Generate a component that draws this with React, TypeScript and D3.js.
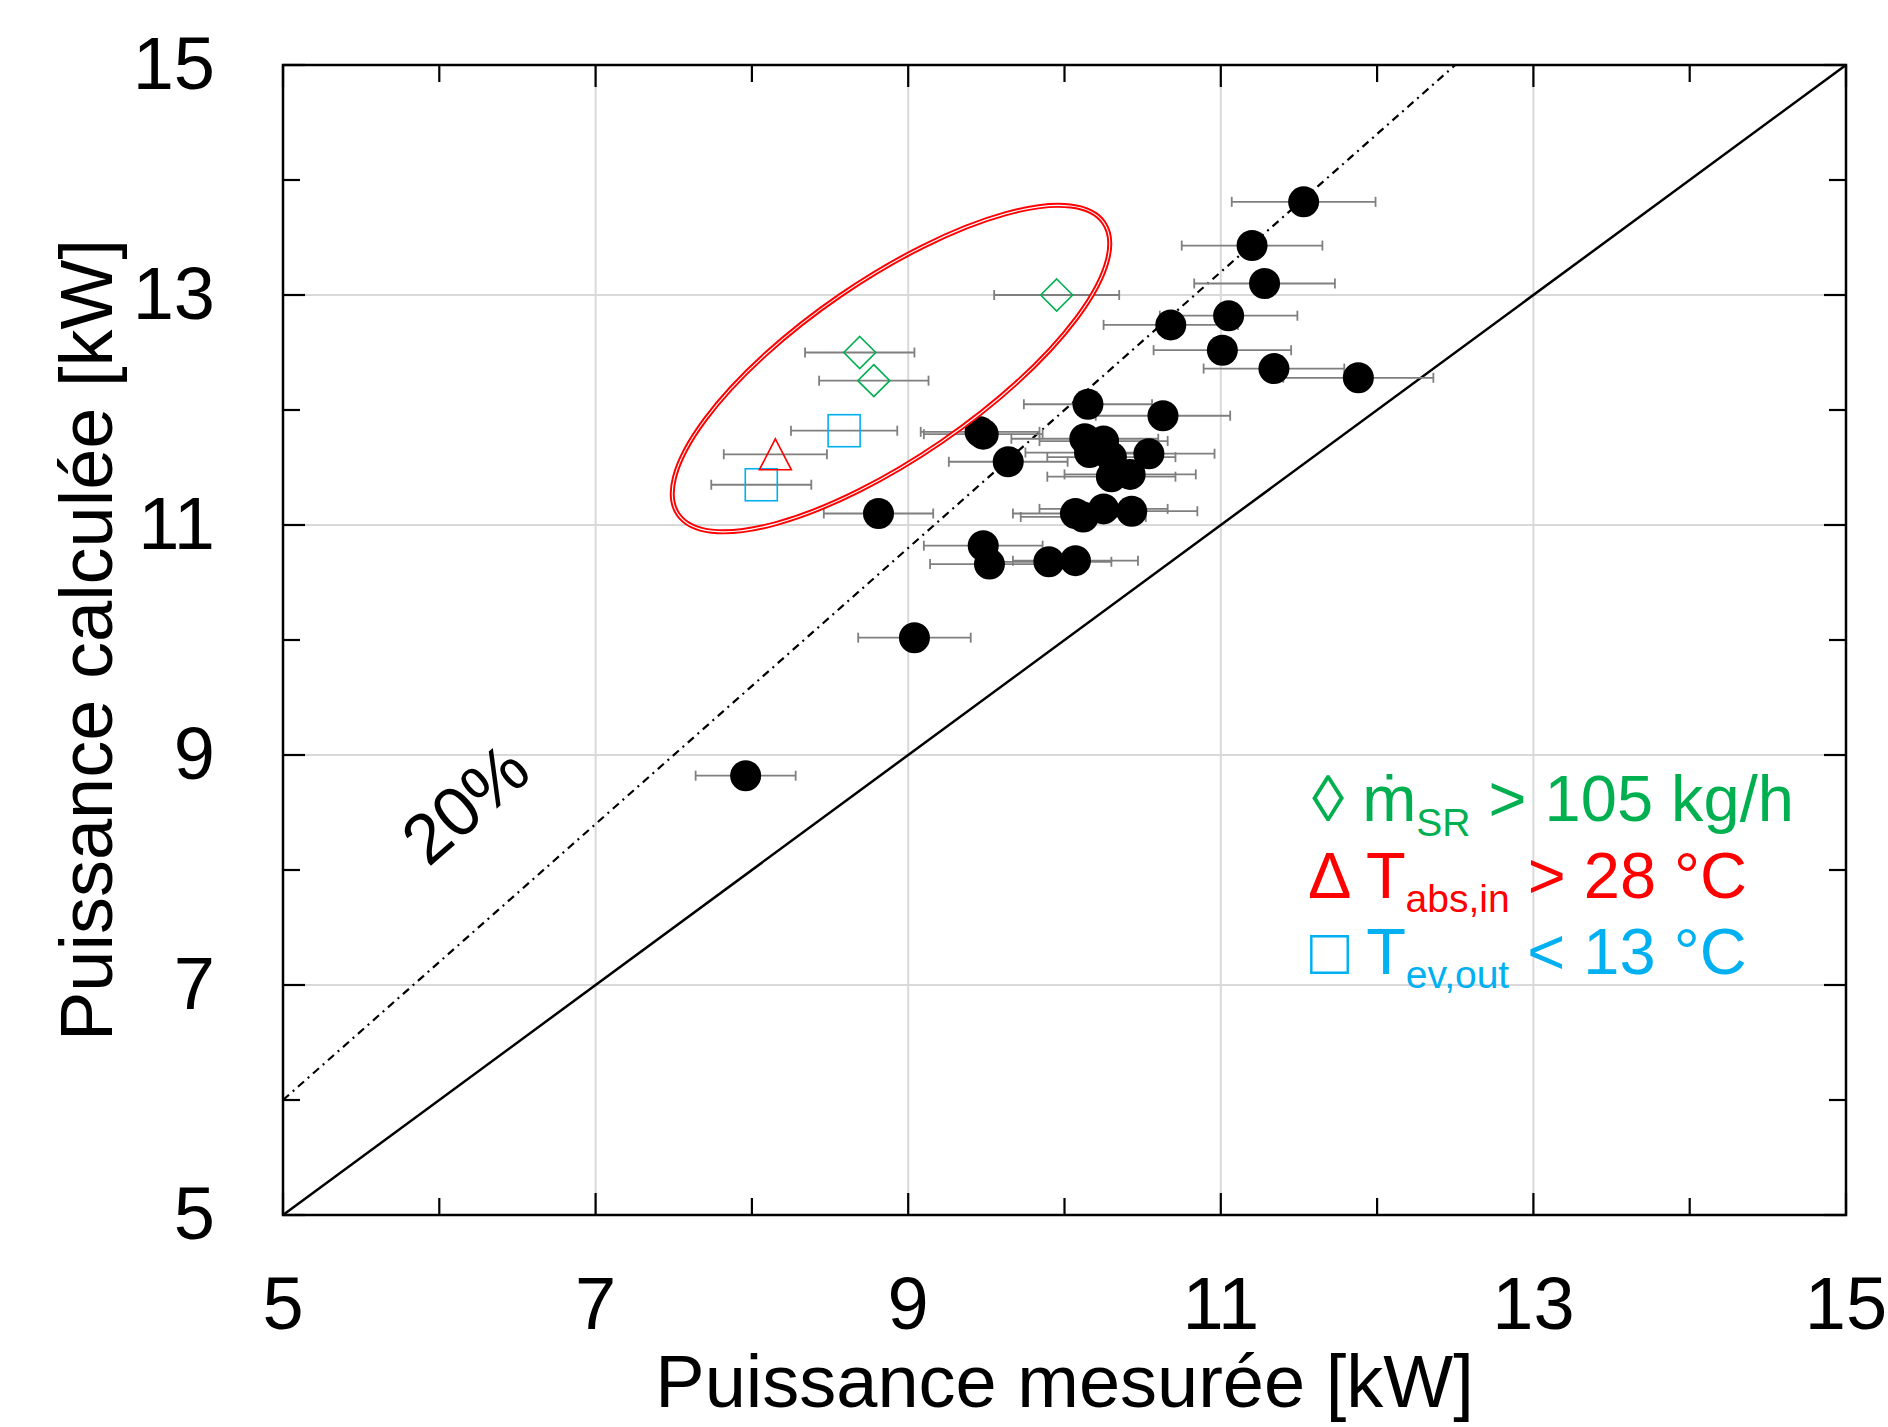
import React from "react";
import * as d3 from "d3";

const W = 1888;
const H = 1427;

const axisTicks = [5, 7, 9, 11, 13, 15];
const minorTicks = [6, 8, 10, 12, 14];
const gridValues = [7, 9, 11, 13];

// Black points: measured power, calculated power, x uncertainty
const measured = [11.53, 11.2, 11.28, 11.05, 10.68, 11.01, 11.34, 11.88, 10.15, 10.63, 9.46, 9.48, 10.13, 10.25, 10.16, 10.3, 10.54, 9.64, 10.3, 10.42, 8.81, 10.07, 10.12, 10.25, 10.43, 9.48, 9.52, 9.9, 10.07, 9.04, 7.96];
const calculated = [13.81, 13.43, 13.1, 12.82, 12.74, 12.52, 12.36, 12.28, 12.05, 11.95, 11.81, 11.79, 11.75, 11.73, 11.63, 11.59, 11.62, 11.55, 11.42, 11.44, 11.1, 11.1, 11.07, 11.14, 11.12, 10.82, 10.66, 10.68, 10.69, 10.02, 8.82];
const measuredErr = [0.46, 0.45, 0.45, 0.44, 0.43, 0.44, 0.45, 0.48, 0.41, 0.43, 0.38, 0.38, 0.47, 0.41, 0.41, 0.41, 0.42, 0.38, 0.41, 0.42, 0.35, 0.4, 0.4, 0.41, 0.42, 0.38, 0.38, 0.4, 0.4, 0.36, 0.32];

// Green diamonds (m_SR > 105 kg/h)
const diamondX = [9.95, 8.69, 8.78];
const diamondY = [13.0, 12.5, 12.255];
const diamondErr = [0.4, 0.35, 0.35];

// Blue squares (T_ev,out < 13 °C)
const squareX = [8.59, 8.06];
const squareY = [11.82, 11.35];
const squareErr = [0.34, 0.32];

// Red triangle (T_abs,in > 28 °C)
const triangleX = [8.15];
const triangleY = [11.615];
const triangleErr = [0.33];

const FONT = "'Liberation Sans', Arial, Helvetica, sans-serif";
const GREEN = "#00B050";
const RED = "#FF0000";
const BLUE = "#00B0F0";

export default function App() {
  const x = d3.scaleLinear().domain([5, 15]).range([283, 1846]);
  const y = d3.scaleLinear().domain([5, 15]).range([1215, 65]);
  const [x0, x1] = x.range();
  const [y0, y1] = y.range();

  const errBar = (cx: number, cy: number, e: number, key: string) => (
    <g key={key} stroke="#7f7f7f" strokeWidth={1.8}>
      <line x1={x(cx - e)} x2={x(cx + e)} y1={y(cy)} y2={y(cy)} />
      <line x1={x(cx - e)} x2={x(cx - e)} y1={y(cy) - 5} y2={y(cy) + 5} />
      <line x1={x(cx + e)} x2={x(cx + e)} y1={y(cy) - 5} y2={y(cy) + 5} />
    </g>
  );

  const lineSolid = d3.line<number>().x((d) => x(d)).y((d) => y(d));
  const line20 = d3.line<number>().x((d) => x(d)).y((d) => y(d * 1.2));

  const ecx = x(8.89);
  const ecy = y(12.36);

  return (
    <svg width={W} height={H} style={{ position: "absolute", left: 0, top: 0, background: "#fff" }} fontFamily={FONT}>
      <rect x={0} y={0} width={W} height={H} fill="#fff" />
      {/* grid */}
      {gridValues.map((v) => (
        <g key={"g" + v} stroke="#d9d9d9" strokeWidth={2}>
          <line x1={x(v)} x2={x(v)} y1={y0} y2={y1} />
          <line x1={x0} x2={x1} y1={y(v)} y2={y(v)} />
        </g>
      ))}
      {/* ticks */}
      {axisTicks.map((v) => (
        <g key={"t" + v} stroke="#000" strokeWidth={2.2}>
          <line x1={x(v)} x2={x(v)} y1={y0} y2={y0 - 22} />
          <line x1={x(v)} x2={x(v)} y1={y1} y2={y1 + 22} />
          <line x1={x0} x2={x0 + 22} y1={y(v)} y2={y(v)} />
          <line x1={x1} x2={x1 - 22} y1={y(v)} y2={y(v)} />
        </g>
      ))}
      {minorTicks.map((v) => (
        <g key={"m" + v} stroke="#000" strokeWidth={2.2}>
          <line x1={x(v)} x2={x(v)} y1={y0} y2={y0 - 17} />
          <line x1={x(v)} x2={x(v)} y1={y1} y2={y1 + 17} />
          <line x1={x0} x2={x0 + 17} y1={y(v)} y2={y(v)} />
          <line x1={x1} x2={x1 - 17} y1={y(v)} y2={y(v)} />
        </g>
      ))}
      {/* diagonal lines */}
      <path d={lineSolid([5, 15]) || ""} stroke="#000" strokeWidth={2.5} fill="none" />
      <path d={line20([5, 12.5]) || ""} stroke="#000" strokeWidth={2.2} fill="none" strokeDasharray="8 5 2 5" />
      {/* error bars */}
      {measured.map((v, i) => errBar(v, calculated[i], measuredErr[i], "eb" + i))}
      {diamondX.map((v, i) => errBar(v, diamondY[i], diamondErr[i], "ed" + i))}
      {squareX.map((v, i) => errBar(v, squareY[i], squareErr[i], "es" + i))}
      {triangleX.map((v, i) => errBar(v, triangleY[i], triangleErr[i], "et" + i))}
      {/* markers */}
      {measured.map((v, i) => (
        <circle key={"c" + i} cx={x(v)} cy={y(calculated[i])} r={15.5} fill="#000" />
      ))}
      {diamondX.map((v, i) => {
        const cx = x(v), cy = y(diamondY[i]);
        return (
          <path key={"d" + i} d={`M${cx},${cy - 16}L${cx + 16},${cy}L${cx},${cy + 16}L${cx - 16},${cy}Z`} fill="none" stroke={GREEN} strokeWidth={1.6} />
        );
      })}
      {squareX.map((v, i) => (
        <rect key={"s" + i} x={x(v) - 16} y={y(squareY[i]) - 16} width={32} height={32} fill="none" stroke={BLUE} strokeWidth={1.6} />
      ))}
      {triangleX.map((v, i) => {
        const cx = x(v), cy = y(triangleY[i]);
        return (
          <path key={"tr" + i} d={`M${cx},${cy - 15.5}L${cx + 16},${cy + 15.5}L${cx - 16},${cy + 15.5}Z`} fill="none" stroke={RED} strokeWidth={1.6} />
        );
      })}
      {/* ellipse */}
      <g transform={`rotate(-34.4, ${ecx}, ${ecy})`}>
        <ellipse cx={ecx} cy={ecy} rx={258} ry={89} fill="none" stroke={RED} strokeWidth={5} />
        <ellipse cx={ecx} cy={ecy} rx={258} ry={89} fill="none" stroke="#fff" strokeWidth={1.1} />
      </g>
      {/* frame */}
      <rect x={x0} y={y1} width={x1 - x0} height={y0 - y1} fill="none" stroke="#000" strokeWidth={2.5} />
      {/* tick labels */}
      {axisTicks.map((v) => (
        <text key={"xl" + v} x={x(v)} y={1329} fontSize={74} textAnchor="middle" fill="#000">{v}</text>
      ))}
      {axisTicks.map((v) => (
        <text key={"yl" + v} x={215} y={y(v) + 24} fontSize={74} textAnchor="end" fill="#000">{v}</text>
      ))}
      {/* axis titles */}
      <text x={(x0 + x1) / 2} y={1407} fontSize={74} textAnchor="middle" fill="#000">Puissance mesurée [kW]</text>
      <text transform={`translate(112, ${(y0 + y1) / 2}) rotate(-90)`} fontSize={74} textAnchor="middle" fill="#000">Puissance calculée [kW]</text>
      {/* 20% label */}
      <text transform={`translate(${x(6.267)}, ${y(8.417)}) rotate(-41)`} fontSize={70} textAnchor="middle" fill="#000">20%</text>
      {/* legend */}
      <text x={1312} y={821} fontSize={65} fill={GREEN}>
        ◊ ṁ<tspan fontSize={39} dy={15}>SR</tspan><tspan dy={-15}> &gt; 105 kg/h</tspan>
      </text>
      <text x={1308} y={898} fontSize={65} fill={RED}>
        Δ T<tspan fontSize={39} dy={14}>abs,in</tspan><tspan dy={-14}> &gt; 28 °C</tspan>
      </text>
      <text x={1310} y={974} fontSize={65} fill={BLUE}>
        □ T<tspan fontSize={39} dy={14}>ev,out</tspan><tspan dy={-14}> &lt; 13 °C</tspan>
      </text>
    </svg>
  );
}
